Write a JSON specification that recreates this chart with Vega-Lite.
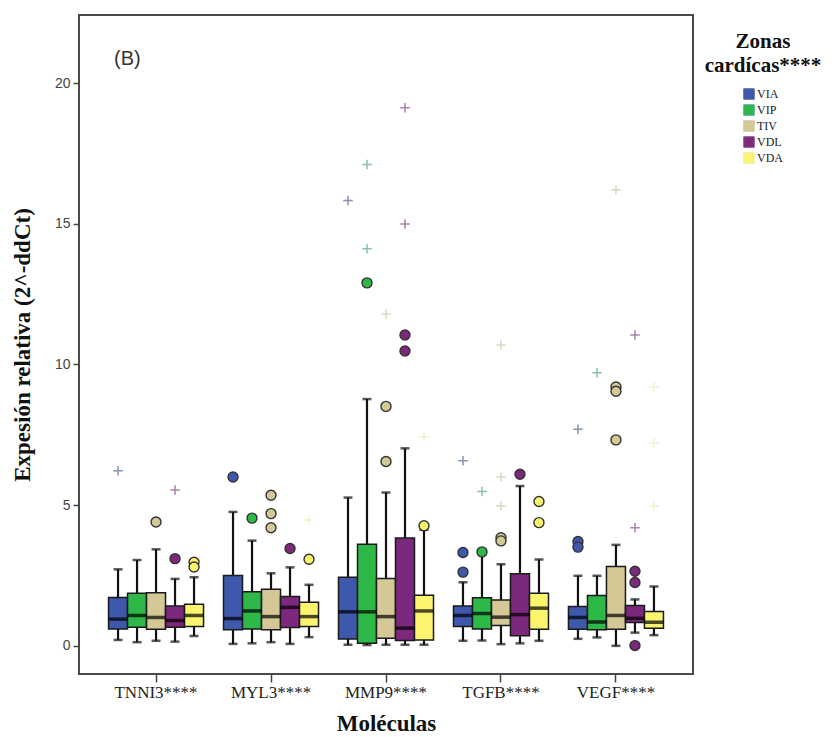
{
  "$schema": "https://vega.github.io/schema/vega-lite/v6.json",
  "width": 614,
  "height": 659,
  "autosize": {"type": "none"},
  "padding": {"left": 79, "top": 15, "right": 143, "bottom": 63},
  "background": "white",
  "title": {"text": "(B)", "anchor": "start", "frame": "group", "dx": 35, "dy": 58, "font": "Liberation Sans", "fontSize": 20, "fontWeight": "normal", "color": "#333333"},
  "config": {
    "view": {"stroke": "#4a4a4a", "strokeWidth": 2},
    "axis": {"grid": false, "domain": false}
  },
  "datasets": {
    "boxes": [
      {"mol": "TNNI3****", "zona": "VIA", "lo": 0.21, "q1": 0.60, "med": 0.95, "q3": 1.72, "hi": 2.72},
      {"mol": "TNNI3****", "zona": "VIP", "lo": 0.13, "q1": 0.66, "med": 1.08, "q3": 1.87, "hi": 3.05},
      {"mol": "TNNI3****", "zona": "TIV", "lo": 0.18, "q1": 0.59, "med": 1.01, "q3": 1.89, "hi": 3.43},
      {"mol": "TNNI3****", "zona": "VDL", "lo": 0.15, "q1": 0.66, "med": 0.90, "q3": 1.42, "hi": 2.38},
      {"mol": "TNNI3****", "zona": "VDA", "lo": 0.35, "q1": 0.69, "med": 1.08, "q3": 1.48, "hi": 2.44},
      {"mol": "MYL3****", "zona": "VIA", "lo": 0.07, "q1": 0.57, "med": 0.97, "q3": 2.50, "hi": 4.76},
      {"mol": "MYL3****", "zona": "VIP", "lo": 0.09, "q1": 0.60, "med": 1.24, "q3": 1.92, "hi": 3.74},
      {"mol": "MYL3****", "zona": "TIV", "lo": 0.13, "q1": 0.57, "med": 1.04, "q3": 2.01, "hi": 2.58},
      {"mol": "MYL3****", "zona": "VDL", "lo": 0.07, "q1": 0.65, "med": 1.37, "q3": 1.75, "hi": 2.79},
      {"mol": "MYL3****", "zona": "VDA", "lo": 0.31, "q1": 0.69, "med": 1.04, "q3": 1.55, "hi": 2.17},
      {"mol": "MMP9****", "zona": "VIA", "lo": 0.04, "q1": 0.24, "med": 1.21, "q3": 2.44, "hi": 5.27},
      {"mol": "MMP9****", "zona": "VIP", "lo": 0.03, "q1": 0.09, "med": 1.21, "q3": 3.61, "hi": 8.77},
      {"mol": "MMP9****", "zona": "TIV", "lo": 0.04, "q1": 0.27, "med": 1.04, "q3": 2.39, "hi": 5.45},
      {"mol": "MMP9****", "zona": "VDL", "lo": 0.04, "q1": 0.19, "med": 0.63, "q3": 3.83, "hi": 7.02},
      {"mol": "MMP9****", "zona": "VDA", "lo": 0.04, "q1": 0.21, "med": 1.24, "q3": 1.80, "hi": 4.12},
      {"mol": "TGFB****", "zona": "VIA", "lo": 0.18, "q1": 0.69, "med": 1.08, "q3": 1.42, "hi": 2.26},
      {"mol": "TGFB****", "zona": "VIP", "lo": 0.19, "q1": 0.60, "med": 1.15, "q3": 1.71, "hi": 3.25},
      {"mol": "TGFB****", "zona": "TIV", "lo": 0.06, "q1": 0.72, "med": 1.02, "q3": 1.63, "hi": 2.90},
      {"mol": "TGFB****", "zona": "VDL", "lo": 0.09, "q1": 0.36, "med": 1.11, "q3": 2.56, "hi": 5.68},
      {"mol": "TGFB****", "zona": "VDA", "lo": 0.18, "q1": 0.59, "med": 1.34, "q3": 1.87, "hi": 3.07},
      {"mol": "VEGF****", "zona": "VIA", "lo": 0.25, "q1": 0.59, "med": 1.01, "q3": 1.40, "hi": 2.49},
      {"mol": "VEGF****", "zona": "VIP", "lo": 0.30, "q1": 0.57, "med": 0.85, "q3": 1.79, "hi": 2.49},
      {"mol": "VEGF****", "zona": "TIV", "lo": 0.00, "q1": 0.59, "med": 1.08, "q3": 2.82, "hi": 3.59},
      {"mol": "VEGF****", "zona": "VDL", "lo": 0.47, "q1": 0.83, "med": 0.98, "q3": 1.43, "hi": 1.65},
      {"mol": "VEGF****", "zona": "VDA", "lo": 0.38, "q1": 0.63, "med": 0.84, "q3": 1.22, "hi": 2.11}
    ],
    "outliers": [
      {"mol": "TNNI3****", "zona": "VIA", "kind": "e", "v": 6.22},
      {"mol": "TNNI3****", "zona": "TIV", "kind": "o", "v": 4.40},
      {"mol": "TNNI3****", "zona": "VDL", "kind": "o", "v": 3.10},
      {"mol": "TNNI3****", "zona": "VDL", "kind": "e", "v": 5.54},
      {"mol": "TNNI3****", "zona": "VDA", "kind": "o", "v": 2.97},
      {"mol": "TNNI3****", "zona": "VDA", "kind": "o", "v": 2.80},
      {"mol": "MYL3****", "zona": "VIA", "kind": "o", "v": 6.00},
      {"mol": "MYL3****", "zona": "VIP", "kind": "o", "v": 4.54},
      {"mol": "MYL3****", "zona": "TIV", "kind": "o", "v": 5.35},
      {"mol": "MYL3****", "zona": "TIV", "kind": "o", "v": 4.70},
      {"mol": "MYL3****", "zona": "TIV", "kind": "o", "v": 4.20},
      {"mol": "MYL3****", "zona": "VDL", "kind": "o", "v": 3.46},
      {"mol": "MYL3****", "zona": "VDA", "kind": "o", "v": 3.08},
      {"mol": "MYL3****", "zona": "VDA", "kind": "e", "v": 4.47},
      {"mol": "MMP9****", "zona": "VIA", "kind": "e", "v": 15.83},
      {"mol": "MMP9****", "zona": "VIP", "kind": "o", "v": 12.90},
      {"mol": "MMP9****", "zona": "VIP", "kind": "e", "v": 14.11},
      {"mol": "MMP9****", "zona": "VIP", "kind": "e", "v": 17.11},
      {"mol": "MMP9****", "zona": "TIV", "kind": "o", "v": 6.55},
      {"mol": "MMP9****", "zona": "TIV", "kind": "o", "v": 8.51},
      {"mol": "MMP9****", "zona": "TIV", "kind": "e", "v": 11.79},
      {"mol": "MMP9****", "zona": "VDL", "kind": "o", "v": 11.05},
      {"mol": "MMP9****", "zona": "VDL", "kind": "o", "v": 10.48},
      {"mol": "MMP9****", "zona": "VDL", "kind": "e", "v": 14.99},
      {"mol": "MMP9****", "zona": "VDL", "kind": "e", "v": 19.12},
      {"mol": "MMP9****", "zona": "VDA", "kind": "o", "v": 4.27},
      {"mol": "MMP9****", "zona": "VDA", "kind": "e", "v": 7.43},
      {"mol": "TGFB****", "zona": "VIA", "kind": "o", "v": 3.32},
      {"mol": "TGFB****", "zona": "VIA", "kind": "o", "v": 2.62},
      {"mol": "TGFB****", "zona": "VIA", "kind": "e", "v": 6.58},
      {"mol": "TGFB****", "zona": "VIP", "kind": "o", "v": 3.34},
      {"mol": "TGFB****", "zona": "VIP", "kind": "e", "v": 5.49},
      {"mol": "TGFB****", "zona": "TIV", "kind": "o", "v": 3.84},
      {"mol": "TGFB****", "zona": "TIV", "kind": "o", "v": 3.73},
      {"mol": "TGFB****", "zona": "TIV", "kind": "e", "v": 6.00},
      {"mol": "TGFB****", "zona": "TIV", "kind": "e", "v": 4.98},
      {"mol": "TGFB****", "zona": "TIV", "kind": "e", "v": 10.69},
      {"mol": "TGFB****", "zona": "VDL", "kind": "o", "v": 6.10},
      {"mol": "TGFB****", "zona": "VDA", "kind": "o", "v": 5.13},
      {"mol": "TGFB****", "zona": "VDA", "kind": "o", "v": 4.38},
      {"mol": "VEGF****", "zona": "VIA", "kind": "o", "v": 3.71},
      {"mol": "VEGF****", "zona": "VIA", "kind": "o", "v": 3.51},
      {"mol": "VEGF****", "zona": "VIA", "kind": "e", "v": 7.70},
      {"mol": "VEGF****", "zona": "VIP", "kind": "e", "v": 9.71},
      {"mol": "VEGF****", "zona": "TIV", "kind": "o", "v": 9.20},
      {"mol": "VEGF****", "zona": "TIV", "kind": "o", "v": 9.05},
      {"mol": "VEGF****", "zona": "TIV", "kind": "o", "v": 7.32},
      {"mol": "VEGF****", "zona": "TIV", "kind": "e", "v": 16.20},
      {"mol": "VEGF****", "zona": "VDL", "kind": "o", "v": 2.65},
      {"mol": "VEGF****", "zona": "VDL", "kind": "o", "v": 2.25},
      {"mol": "VEGF****", "zona": "VDL", "kind": "o", "v": 0.01},
      {"mol": "VEGF****", "zona": "VDL", "kind": "e", "v": 4.20},
      {"mol": "VEGF****", "zona": "VDL", "kind": "e", "v": 11.05},
      {"mol": "VEGF****", "zona": "VDA", "kind": "e", "v": 9.21},
      {"mol": "VEGF****", "zona": "VDA", "kind": "e", "v": 7.22},
      {"mol": "VEGF****", "zona": "VDA", "kind": "e", "v": 4.97}
    ]
  },
  "encoding": {
    "x": {
      "field": "mol", "type": "nominal",
      "sort": ["TNNI3****", "MYL3****", "MMP9****", "TGFB****", "VEGF****"],
      "scale": {"paddingInner": 0, "paddingOuter": 0.17},
      "axis": {
        "title": "Moléculas", "labelAngle": 0,
        "labelFont": "Liberation Serif", "labelFontSize": 17, "labelColor": "#222222", "labelPadding": 2,
        "tickColor": "#444444", "tickSize": 8, "tickWidth": 1.5,
        "titleFont": "Liberation Serif", "titleFontSize": 23, "titleFontWeight": "bold", "titleColor": "#111111", "titlePadding": 12
      }
    },
    "xOffset": {
      "field": "zona", "type": "nominal",
      "sort": ["VIA", "VIP", "TIV", "VDL", "VDA"],
      "scale": {"paddingInner": 0, "paddingOuter": 0.526}
    }
  },
  "layer": [
    {
      "data": {"name": "boxes"},
      "mark": {"type": "rule", "color": "#111111", "strokeWidth": 2.2},
      "encoding": {
        "y": {
          "field": "lo", "type": "quantitative",
          "scale": {"domain": [-1.0, 22.42], "nice": false, "zero": false},
          "axis": {
            "title": "Expesión relativa (2^-ddCt)", "values": [0, 5, 10, 15, 20],
            "labelFont": "Liberation Sans", "labelFontSize": 14, "labelColor": "#444444", "labelPadding": 3,
            "tickColor": "#444444", "tickSize": 6, "tickWidth": 1.5,
            "titleFont": "Liberation Serif", "titleFontSize": 23, "titleFontWeight": "bold", "titleColor": "#111111", "titlePadding": 20
          }
        },
        "y2": {"field": "hi"}
      }
    },
    {
      "data": {"name": "boxes"},
      "mark": {"type": "bar", "stroke": "#1a1a1a", "strokeWidth": 1.5},
      "encoding": {
        "y": {"field": "q1", "type": "quantitative"},
        "y2": {"field": "q3"},
        "fill": {
          "field": "zona", "type": "nominal",
          "sort": ["VIA", "VIP", "TIV", "VDL", "VDA"],
          "scale": {"domain": ["VIA", "VIP", "TIV", "VDL", "VDA"], "range": ["#3E58AC", "#2EB848", "#D3C896", "#7C287D", "#FBF56E"]},
          "legend": {
            "title": ["Zonas", "cardícas****"], "orient": "none", "legendX": 626, "legendY": 16,
            "titleFont": "Liberation Serif", "titleFontSize": 21, "titleFontWeight": "bold", "titleColor": "#111111",
            "titleAnchor": "middle", "titleAlign": "center", "titleLineHeight": 24, "titlePadding": 12,
            "labelFont": "Liberation Serif", "labelFontSize": 12, "labelColor": "#222222", "labelOffset": 2,
            "symbolType": "square", "symbolSize": 110, "symbolStrokeColor": "#222222", "symbolStrokeWidth": 1,
            "rowPadding": 0
          }
        }
      }
    },
    {
      "data": {"name": "boxes"},
      "mark": {"type": "tick", "color": "#111111", "thickness": 2.5, "size": 9},
      "encoding": {"y": {"field": "lo", "type": "quantitative"}}
    },
    {
      "data": {"name": "boxes"},
      "mark": {"type": "tick", "color": "#111111", "thickness": 2.5, "size": 9},
      "encoding": {"y": {"field": "hi", "type": "quantitative"}}
    },
    {
      "data": {"name": "boxes"},
      "mark": {"type": "tick", "color": "#000000", "thickness": 3.5, "size": 19},
      "encoding": {"y": {"field": "med", "type": "quantitative"}}
    },
    {
      "data": {"name": "outliers"},
      "transform": [{"filter": "datum.kind === 'o'"}],
      "mark": {"type": "point", "shape": "circle", "filled": true, "size": 100, "stroke": "#333333", "strokeWidth": 1.4, "opacity": 1},
      "encoding": {
        "y": {"field": "v", "type": "quantitative"},
        "fill": {"field": "zona", "type": "nominal", "legend": null}
      }
    },
    {
      "data": {"name": "outliers"},
      "transform": [{"filter": "datum.kind === 'e'"}],
      "mark": {"type": "point", "shape": "M-1,0L1,0M0,-1L0,1", "filled": false, "size": 90, "strokeWidth": 1.5, "opacity": 0.7},
      "encoding": {
        "y": {"field": "v", "type": "quantitative"},
        "stroke": {"field": "zona", "type": "nominal", "scale": {"domain": ["VIA", "VIP", "TIV", "VDL", "VDA"], "range": ["#56669a", "#5aa39a", "#cfc6a6", "#8a4c8a", "#eeeab0"]}, "legend": null}
      }
    }
  ]
}
